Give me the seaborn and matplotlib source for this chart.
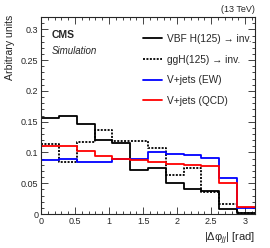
import numpy as np
import pandas as pd
import matplotlib
matplotlib.use("Agg")
import matplotlib.pyplot as plt
from matplotlib.ticker import MultipleLocator
import seaborn as sns

# bin edges: 12 bins over [0, pi]
edges = np.linspace(0, np.pi, 13)
centres = 0.5 * (edges[:-1] + edges[1:])

# normalised shapes
vbf = [0.156, 0.159, 0.147, 0.120, 0.116, 0.072, 0.075, 0.051, 0.040, 0.038, 0.008, 0.001]
ggh = [0.113, 0.084, 0.117, 0.137, 0.118, 0.119, 0.108, 0.063, 0.074, 0.036, 0.016, 0.002]
vjets_ew = [0.087, 0.089, 0.085, 0.085, 0.089, 0.089, 0.100, 0.097, 0.096, 0.091, 0.058, 0.010]
vjets_qcd = [0.111, 0.111, 0.102, 0.094, 0.089, 0.087, 0.084, 0.082, 0.080, 0.078, 0.050, 0.011]

labels = ["VBF H(125) → inv.", "ggH(125) → inv.", "V+jets (EW)", "V+jets (QCD)"]
colors = ["black", "black", "blue", "red"]
styles = ["-", (0, (1.1, 0.8)), "-", "-"]

sns.set_style("ticks")
plt.rcParams["font.family"] = ["Liberation Sans", "DejaVu Sans"]
plt.rcParams["mathtext.fontset"] = "custom"
plt.rcParams["mathtext.rm"] = "Liberation Sans"
plt.rcParams["mathtext.it"] = "Liberation Sans:italic"

fig = plt.figure(figsize=(2.70, 2.48), dpi=100)
ax = fig.add_axes([0.152, 0.137, 0.792, 0.794])

for vals, lab, col, ls in zip([vbf, ggh, vjets_ew, vjets_qcd], labels, colors, styles):
    df = pd.DataFrame({"dphi": centres, "w": vals})
    sns.histplot(data=df, x="dphi", weights="w", bins=list(edges), element="step", fill=False,
                 color=col, linestyle=ls, linewidth=1.3, label=lab, ax=ax)

ax.set_xlim(0, np.pi)
ax.set_ylim(0, 0.32)
ax.xaxis.set_minor_locator(MultipleLocator(0.1))
ax.yaxis.set_minor_locator(MultipleLocator(0.01))
ax.set_xticks([0, 0.5, 1, 1.5, 2, 2.5, 3])
ax.set_xticklabels(["0", "0.5", "1", "1.5", "2", "2.5", "3"])
ax.set_yticks([0, 0.05, 0.1, 0.15, 0.2, 0.25, 0.3])
ax.set_yticklabels(["0", "0.05", "0.1", "0.15", "0.2", "0.25", "0.3"])
ax.tick_params(which="both", direction="in", top=True, right=True, labelsize=6.5, width=0.6, pad=2)
ax.tick_params(which="major", length=5)
ax.tick_params(which="minor", length=2.5)
for sp in ax.spines.values():
    sp.set_linewidth(0.8)

ax.set_ylabel("")
ax.text(-0.145, 1.01, "Arbitrary units", transform=ax.transAxes, fontsize=7.6, rotation=90,
        rotation_mode="anchor", ha="right", va="center")
ax.set_xlabel("|Δφ$_{jj}$| [rad]", fontsize=8, loc="right")
ax.xaxis.set_label_coords(1.0, -0.085)

ax.text(0.05, 0.935, "CMS", transform=ax.transAxes, fontsize=7.5, fontweight="bold", va="top")
ax.text(0.05, 0.855, "Simulation", transform=ax.transAxes, fontsize=7, style="italic", va="top")
ax.text(1.0, 1.015, "(13 TeV)", transform=ax.transAxes, fontsize=6.5, ha="right", va="bottom")

ax.legend(loc="upper right", bbox_to_anchor=(1.015, 0.945), frameon=False, fontsize=7.3,
          handlelength=1.9, labelspacing=1.05, handletextpad=0.5, borderaxespad=0.2)

fig.savefig("out.png", dpi=100)
